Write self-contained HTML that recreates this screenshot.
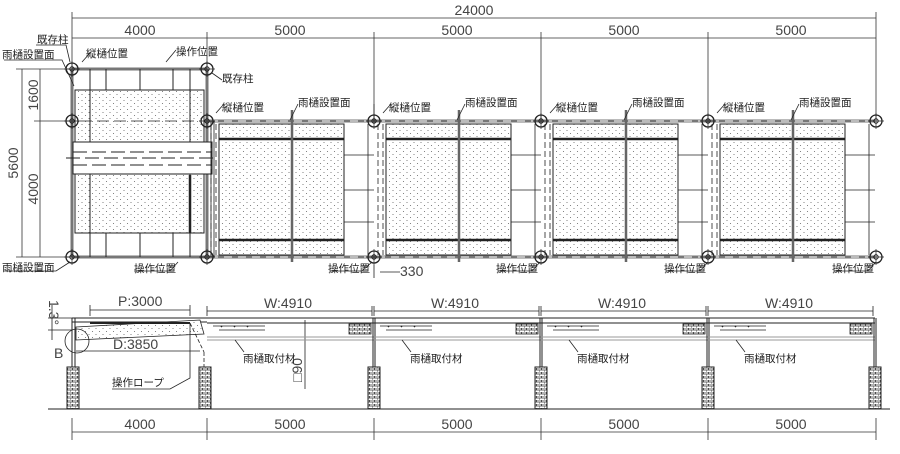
<!DOCTYPE html>
<html><head><meta charset="utf-8"><style>
html,body{margin:0;padding:0;background:#fff}
svg{display:block}
text{font-family:"Liberation Sans","Noto Sans CJK JP",sans-serif;fill:#222}
.d{font-size:14px;fill:#444}
.j{font-size:10.5px}
</style></head><body>
<svg width="900" height="454" viewBox="0 0 900 454" xmlns="http://www.w3.org/2000/svg">
<defs>
<pattern id="dots" width="7" height="6" patternUnits="userSpaceOnUse">
<rect width="7" height="6" fill="#fff"/><circle cx="1.5" cy="1.5" r="0.55" fill="#666"/><circle cx="5" cy="4.5" r="0.55" fill="#666"/></pattern>
<pattern id="brick" width="5" height="4" patternUnits="userSpaceOnUse">
<rect width="5" height="4" fill="#fff"/><path d="M0 0H5M0 2H5M2.5 0V2M0 2V4" stroke="#333" stroke-width="0.8" fill="none"/></pattern>
<g id="col"><circle r="6" fill="none" stroke="#222" stroke-width="1.3"/><circle r="2.2" fill="none" stroke="#222" stroke-width="1"/><path d="M-8 0H8M0-8V8" stroke="#222" stroke-width="0.7"/></g>
<g id="bay" stroke="#222" fill="none">
<path d="M0 121H167M0 257H167" stroke="#777" stroke-width="3"/>
<path d="M3 121H167M3 257H167" stroke="#fff" stroke-width="1" stroke-dasharray="8 6"/>
<rect x="12" y="124" width="125" height="131" fill="url(#dots)" stroke-width="1"/>
<path d="M12 139H137M12 240H137" stroke-width="2.5"/>
<path d="M85 110V262" stroke="#666" stroke-width="2.5"/>
<path d="M137 155H167M137 190H167M137 222H167M161 124V255" stroke-width="0.8"/>
<path d="M4 124V255M9 124V255" stroke-width="0.8" stroke-dasharray="6 3"/>
</g>
<g id="elev" stroke="#222" fill="none">
<path d="M0 318H167M0 323H167" stroke-width="1"/>
<path d="M0 337H167M0 340H167" stroke="#999" stroke-width="1"/>
<path d="M6 326H58M12 330H58" stroke-width="0.8"/>
<path d="M14 326l1 1M27 326l1 1M40 326l1 1" stroke-width="1.5"/>
<rect x="142" y="324" width="22" height="10" fill="url(#brick)" stroke-width="0.8"/>
<path d="M166 318V409M168 318V409" stroke-width="1"/>
<rect x="161" y="367" width="12" height="42" fill="url(#brick)" stroke-width="1"/>
<path d="M28 340L37 352" stroke-width="0.8"/>
<path d="M0 311H165M0 306V316M165 306V316" stroke-width="0.8"/>
</g>
</defs>

<!-- top dimensions -->
<g stroke="#333" stroke-width="0.8" fill="none">
<path d="M72 18H876M72 38H876"/>
<path d="M72 12V257M207 32V69M374 32V120M541 32V120M708 32V120M876 12V120"/>
<path d="M22 69V257M40 69V257M16 69H72M34 121H72M16 257H72"/>
<path d="M72 432H876M72 418V440M207 418V440M374 418V440M541 418V440M708 418V440M876 418V440"/>
</g>
<text x="474" y="15" class="d" text-anchor="middle">24000</text>
<text x="140" y="35" class="d" text-anchor="middle">4000</text>
<text x="290" y="35" class="d" text-anchor="middle">5000</text>
<text x="457" y="35" class="d" text-anchor="middle">5000</text>
<text x="624" y="35" class="d" text-anchor="middle">5000</text>
<text x="791" y="35" class="d" text-anchor="middle">5000</text>
<text x="140" y="429" class="d" text-anchor="middle">4000</text>
<text x="290" y="429" class="d" text-anchor="middle">5000</text>
<text x="457" y="429" class="d" text-anchor="middle">5000</text>
<text x="624" y="429" class="d" text-anchor="middle">5000</text>
<text x="791" y="429" class="d" text-anchor="middle">5000</text>
<text transform="translate(18,163) rotate(-90)" class="d" text-anchor="middle">5600</text>
<text transform="translate(38,95) rotate(-90)" class="d" text-anchor="middle">1600</text>
<text transform="translate(38,189) rotate(-90)" class="d" text-anchor="middle">4000</text>

<!-- left block -->
<g stroke="#222" fill="none">
<rect x="75" y="90" width="129" height="143" fill="url(#dots)" stroke-width="1"/>
<path d="M72 69H207M72 257H207" stroke="#777" stroke-width="3"/>
<path d="M72 69V257M207 69V257" stroke="#777" stroke-width="3"/>
<path d="M75 90H204M75 233H204" stroke-width="1"/>
<path d="M90 69V257M106 69V90M106 233V257M140 69V90M140 233V257M173 69V90M173 233V257M190 69V257" stroke-width="1"/>
<path d="M190 175V233" stroke-width="2.5"/>
<rect x="73" y="142" width="139" height="32" fill="#fff" stroke-width="1"/>
<path d="M66 158H215M73 152H212M73 165H212" stroke-width="0.9" stroke-dasharray="14 5"/>
<path d="M80 121H200" stroke-width="0.8" stroke-dasharray="12 5"/>
</g>
<use href="#bay" x="207"/><use href="#bay" x="374"/><use href="#bay" x="541"/><use href="#bay" x="708"/>
<g stroke="#222" fill="none"><path d="M211 121V257M214 121V257" stroke-width="0.8"/></g>
<use href="#col" x="72" y="69"/><use href="#col" x="207" y="69"/>
<use href="#col" x="72" y="121"/><use href="#col" x="207" y="121"/><use href="#col" x="374" y="121"/><use href="#col" x="541" y="121"/><use href="#col" x="708" y="121"/><use href="#col" x="876" y="121"/>
<use href="#col" x="72" y="257"/><use href="#col" x="207" y="257"/><use href="#col" x="374" y="257"/><use href="#col" x="541" y="257"/><use href="#col" x="708" y="257"/><use href="#col" x="876" y="257"/>

<!-- plan labels -->
<g stroke="#222" stroke-width="0.8" fill="none">
<path d="M36 45H66L70 62M4 60H62L74 86M4 271H56L70 262M82 62L90 53M166 62L176 50M212 73L222 80M216 113L224 104M290 120L298 104M374 104V121"/>
<path d="M134 271H170L178 262M330 271H362L372 262M498 271H532L540 262M666 271H700L708 262M834 271H868L876 262"/>
<path d="M457 120L465 104M624 120L632 104M791 120L799 104M383 113L391 104M550 113L558 104M717 113L725 104"/>
<path d="M380 272H400M374 265V278"/>
</g>
<text x="37" y="43" class="j">既存柱</text>
<text x="2" y="58" class="j">雨樋設置面</text>
<text x="86" y="57" class="j">縦樋位置</text>
<text x="176" y="55" class="j">操作位置</text>
<text x="222" y="82" class="j">既存柱</text>
<text x="222" y="111" class="j">縦樋位置</text>
<text x="298" y="106" class="j">雨樋設置面</text>
<text x="389" y="111" class="j">縦樋位置</text>
<text x="465" y="106" class="j">雨樋設置面</text>
<text x="556" y="111" class="j">縦樋位置</text>
<text x="632" y="106" class="j">雨樋設置面</text>
<text x="723" y="111" class="j">縦樋位置</text>
<text x="799" y="106" class="j">雨樋設置面</text>
<text x="2" y="271" class="j">雨樋設置面</text>
<text x="134" y="272" class="j">操作位置</text>
<text x="328" y="272" class="j">操作位置</text>
<text x="496" y="272" class="j">操作位置</text>
<text x="664" y="272" class="j">操作位置</text>
<text x="832" y="272" class="j">操作位置</text>
<text x="400" y="276" class="d" font-size="15">330</text>

<!-- elevation -->
<g stroke="#222" fill="none">
<path d="M48 409H890" stroke-width="1"/>
<path d="M72 318V409M75 318V409" stroke-width="1"/>
<rect x="67" y="367" width="12" height="42" fill="url(#brick)" stroke-width="1"/>
<rect x="199" y="367" width="12" height="42" fill="url(#brick)" stroke-width="1"/>
<path d="M72 318H207M72 322H207" stroke-width="1"/>
<path d="M76 327L200 320L204 334L76 340Z" fill="url(#dots)" stroke-width="0.8"/>
<path d="M90 323H190" stroke-width="2"/>
<path d="M190 323L204 352M204 352V367" stroke-width="0.8" stroke-dasharray="4 2"/>
<circle cx="77" cy="341" r="12" stroke-width="0.8"/>
<path d="M76 351H200M90 310H190M90 305V316M190 305V316" stroke-width="0.8"/>
<path d="M48 318H72M48 330H72M52 305V340" stroke-width="0.8"/>
<path d="M112 389H170L190 378V323" stroke-width="0.8"/>
<path d="M305 320V389" stroke-width="0.8"/>
</g>
<use href="#elev" x="207"/><use href="#elev" x="374"/><use href="#elev" x="541"/><use href="#elev" x="708"/>
<text x="118" y="306" class="d">P:3000</text>
<text x="113" y="349" class="d" font-size="15">D:3850</text>
<text x="54" y="358" class="d">B</text>
<text transform="translate(49,300) rotate(90)" class="d" font-size="12">1.3°</text>
<text x="112" y="386" class="j">操作ロープ</text>
<text transform="translate(302,382) rotate(-90)" class="d">□90</text>
<text x="264" y="308" class="d" font-size="14">W:4910</text>
<text x="431" y="308" class="d" font-size="14">W:4910</text>
<text x="598" y="308" class="d" font-size="14">W:4910</text>
<text x="765" y="308" class="d" font-size="14">W:4910</text>
<text x="243" y="362" class="j">雨樋取付材</text>
<text x="410" y="362" class="j">雨樋取付材</text>
<text x="577" y="362" class="j">雨樋取付材</text>
<text x="744" y="362" class="j">雨樋取付材</text>
</svg>
</body></html>
